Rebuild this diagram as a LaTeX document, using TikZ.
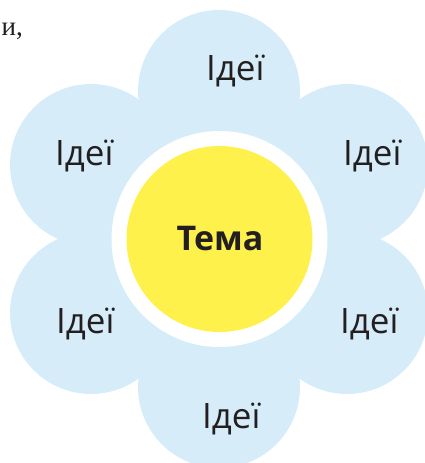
\documentclass[tikz,border=0pt]{standalone}
\usepackage{fontspec}
\setmainfont{Open Sans}
\newfontfamily\pageserif{Liberation Serif}
\usetikzlibrary{positioning}
\definecolor{PetalBlue}{HTML}{D6EDF9}
\definecolor{CoreYellow}{HTML}{FFF14C}
\definecolor{LabelInk}{HTML}{231F20}
\tikzset{
  every node/.style={text=LabelInk},
  petal/.style={circle, fill=PetalBlue, inner sep=0pt, minimum size=162pt},
  ring/.style={circle, fill=white, inner sep=0pt, minimum size=216pt},
  core/.style={circle, fill=CoreYellow, inner sep=0pt, minimum size=186pt},
  idea/.style={font=\fontsize{35}{40}\selectfont, inner sep=0pt, anchor=base west},
}
\begin{document}
\begin{tikzpicture}[x=1pt,y=-1pt]
  \useasboundingbox (0,0) rectangle (424,463);
  % page text above the flower
  \node[anchor=base east, inner sep=0pt, font=\pageserif\fontsize{27}{30}\selectfont] (pagetext) at (23,35) {и,};
  % petals
  \foreach \n/\px/\py in {top/219/91, upleft/91/165, upright/347/165, lowleft/91/313, lowright/347/313, bottom/219/387}
    \node[petal] (petal-\n) at (\px,\py) {};
  % centre
  \node[ring] (ring) at (219.5,239) {};
  \node[core] (core) at (ring.center) {};
  \node[anchor=base, inner sep=0pt, font=\fontsize{34}{40}\selectfont\bfseries] (tema) at (220,250) {Тема};
  % labels on the petals
  \foreach \n/\lx/\ly in {top/206/80, upleft/55/165, upright/343/165, lowleft/56/333, lowright/340/333, bottom/202/428}
    \node[idea] (idea-\n) at (\lx,\ly) {Ідеї};
\end{tikzpicture}
\end{document}
